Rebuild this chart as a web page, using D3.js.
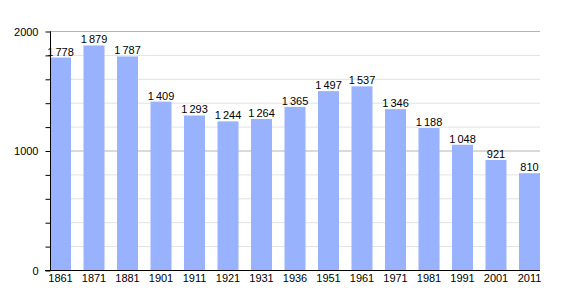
<!DOCTYPE html>
<html>
<head>
	<script src="https://d3js.org/d3.v7.min.js"></script>
	<style>
		body { margin: 0; background: #fff; }
		text { font: 11px "Liberation Sans", Arial, sans-serif; fill: #000; }
	</style>
</head>
<body>
<svg id="chart" width="570" height="300"></svg>
<script>
	var years = ["1861", "1871", "1881", "1901", "1911", "1921", "1931", "1936", "1951", "1961", "1971", "1981", "1991", "2001", "2011"];
	var population = [1778, 1879, 1787, 1409, 1293, 1244, 1264, 1365, 1497, 1537, 1346, 1188, 1048, 921, 810];
	var yLabels = [0, 1000, 2000];

	var svg = d3.select("#chart");
	// plot edges (not named top/left: those clash with window globals)
	var plotL = 50, plotR = 540, plotT = 31, plotB = 270;

	var x = d3.scaleBand()
		.domain(years)
		.range([plotL, plotR])
		.paddingInner(0.373)
		.paddingOuter(0);

	var y = d3.scaleLinear()
		.domain([0, 2000])
		.range([plotB, plotT]);

	// minor grid every 200, major at 1000s
	var minor = d3.range(200, 2001, 200);
	svg.selectAll("line.grid")
		.data(minor)
	  .enter().append("line")
		.attr("x1", plotL).attr("x2", plotR)
		.attr("y1", function(d){ return y(d) + 0.5; })
		.attr("y2", function(d){ return y(d) + 0.5; })
		.attr("stroke", function(d){ return d % 1000 === 0 ? "#b4b4b4" : "#e2e2e2"; })
		.attr("stroke-width", 1);

	svg.selectAll("rect.bar")
		.data(population)
	  .enter().append("rect")
		.attr("x", function(d, i){ return x(years[i]); })
		.attr("y", function(d){ return y(d); })
		.attr("width", x.bandwidth())
		.attr("height", function(d){ return plotB - y(d); })
		.attr("fill", "#99b2fd");

	var fmt = function(d){ return d >= 1000 ? Math.floor(d / 1000) + "\u2009" + d3.format("03d")(d % 1000) : String(d); };

	svg.selectAll("text.val")
		.data(population)
	  .enter().append("text")
		.attr("x", function(d, i){ return x(years[i]) + x.bandwidth() / 2; })
		.attr("y", function(d){ return y(d) - 2; })
		.attr("text-anchor", "middle")
		.text(fmt);

	// y axis
	var yAxis = d3.axisLeft(y)
		.tickValues(minor.concat([0]))
		.tickSize(5)
		.tickFormat(function(d){ return yLabels.indexOf(d) >= 0 ? d : ""; });
	var ya = svg.append("g")
		.attr("transform", "translate(" + (plotL + 0.5) + ",0.5)")
		.call(yAxis);
	ya.select(".domain").attr("d", "M0," + plotT + "V" + plotB);
	ya.selectAll("text").attr("x", -12).style("font-size", "11px");

	// x axis
	var xAxis = d3.axisBottom(x).tickSize(0).tickPadding(4);
	var xa = svg.append("g")
		.attr("transform", "translate(0," + (plotB + 0.5) + ")")
		.call(xAxis);
	xa.select(".domain").attr("d", "M" + (plotL - 5) + ",0H" + plotR);
	xa.selectAll("text").style("font-size", "11px");
</script>
</body>
</html>
